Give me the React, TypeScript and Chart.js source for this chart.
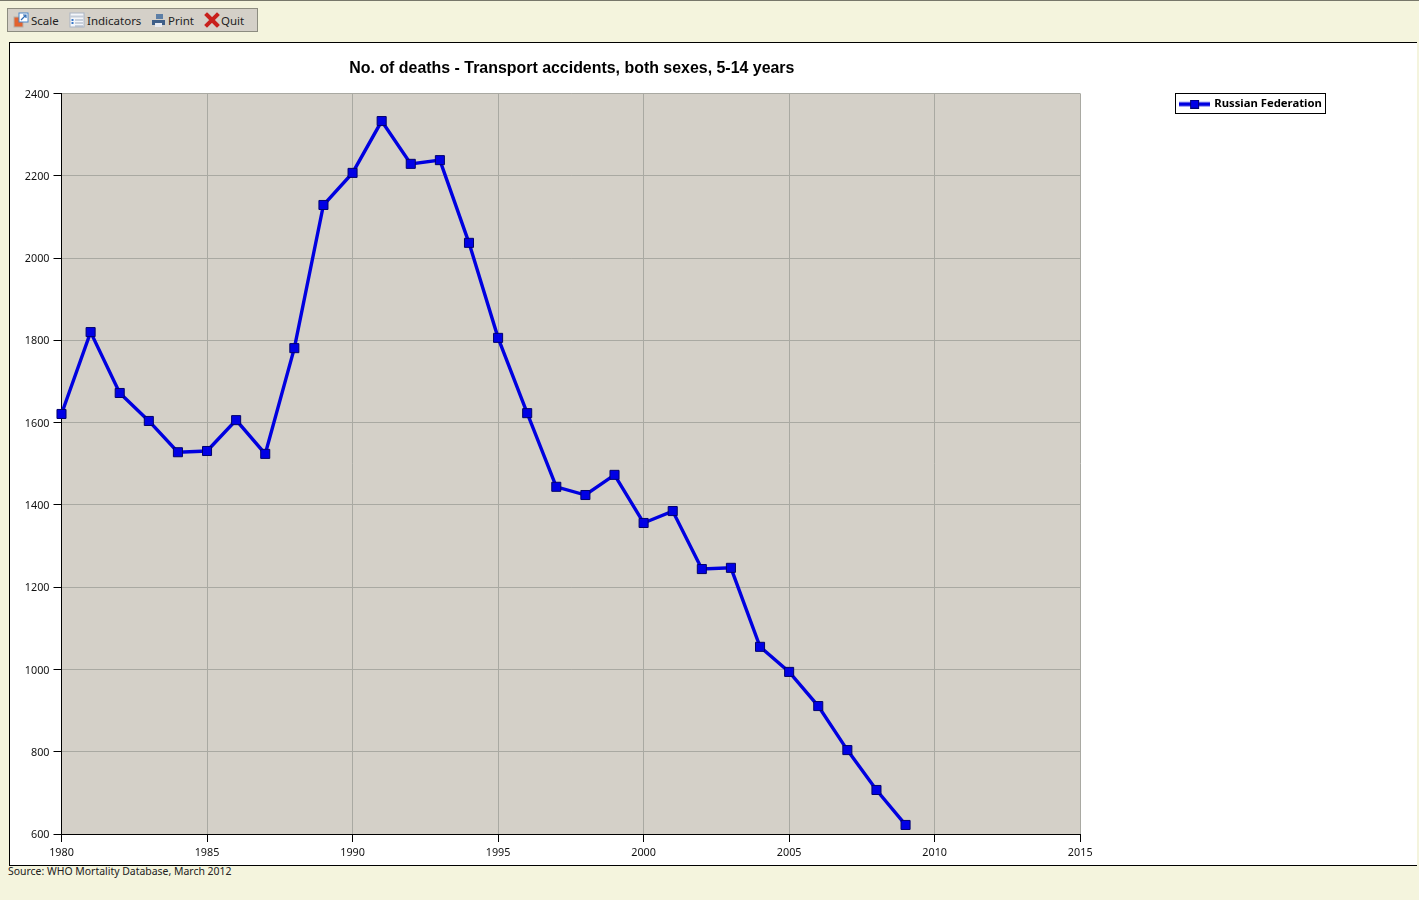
import React, { useEffect, useRef } from "react";
import { Chart, registerables } from "chart.js";

Chart.register(...registerables);

const years = [1980,1981,1982,1983,1984,1985,1986,1987,1988,1989,1990,1991,1992,1993,1994,1995,1996,1997,1998,1999,2000,2001,2002,2003,2004,2005,2006,2007,2008,2009];
const deaths = [1621,1820,1672,1604,1528,1531,1606,1524,1781,2129,2207,2333,2229,2238,2037,1806,1623,1444,1424,1473,1356,1385,1244,1247,1055,994,911,804,707,622];
const seriesName = "Russian Federation";
const chartTitle = "No. of deaths - Transport accidents, both sexes, 5-14 years";
const sourceText = "Source: WHO Mortality Database, March 2012";
const LINE = "#0000e0";
const MARK = "#0000e6";
const MARK_EDGE = "#00006e";
const UI_FONT = "'Noto Sans', sans-serif";

function makeSwatch(): HTMLCanvasElement {
  const c = document.createElement("canvas");
  c.width = 31;
  c.height = 9;
  const x = c.getContext("2d")!;
  x.fillStyle = LINE;
  x.fillRect(0, 2.5, 31, 4);
  x.fillStyle = MARK;
  x.fillRect(11, 0, 9, 9);
  x.strokeStyle = MARK_EDGE;
  x.strokeRect(11.5, 0.5, 8, 8);
  return c;
}

const framePlugin = {
  id: "frame",
  beforeDraw(chart: any) {
    const { ctx, chartArea: a } = chart;
    ctx.save();
    ctx.fillStyle = "#d4d0c8";
    ctx.fillRect(a.left, a.top, a.right - a.left, a.bottom - a.top);
    ctx.restore();
  },
  afterLayout(chart: any) {
    const l = chart.legend;
    if (l) {
      l.left = 1166.6;
      l.right = 1316;
      l.top = 51.5;
      l.bottom = 71;
    }
    const t = chart.titleBlock;
    if (t) {
      t.left = chart.chartArea.left + 1;
      t.right = chart.chartArea.right + 1;
    }
  },
  afterDraw(chart: any) {
    const { ctx } = chart;
    ctx.save();
    ctx.strokeStyle = "#000";
    ctx.lineWidth = 1;
    ctx.strokeRect(1165.5, 50.5, 150, 20);
    ctx.restore();
  },
};

const Icon = ({ left, children }: { left: number; children: React.ReactNode }) => (
  <svg width="16" height="16" viewBox="0 0 16 16" style={{ position: "absolute", left, top: 3 }}>
    {children}
  </svg>
);

const Label = ({ left, text }: { left: number; text: string }) => (
  <span style={{ position: "absolute", left, top: 3, fontFamily: UI_FONT, fontSize: 11.5, lineHeight: "17px", color: "#222" }}>{text}</span>
);

export default function App() {
  const ref = useRef<HTMLCanvasElement>(null);
  useEffect(() => {
    const swatch = makeSwatch();
    const chart = new Chart(ref.current!, {
      type: "line",
      data: {
        datasets: [
          {
            label: seriesName,
            data: years.map((y, i) => ({ x: y, y: deaths[i] })),
            borderColor: LINE,
            backgroundColor: MARK,
            borderWidth: 3.4,
            tension: 0,
            pointStyle: "rect",
            pointRadius: 6.4,
            pointBackgroundColor: MARK,
            pointBorderColor: MARK_EDGE,
            pointBorderWidth: 1,
            clip: false,
          },
        ],
      },
      options: {
        animation: false,
        responsive: false,
        layout: { padding: { left: 0, right: 335.8, top: 0, bottom: 0 } },
        scales: {
          x: {
            type: "linear",
            min: 1980,
            max: 2015,
            afterFit(s: any) { s.height = 30; },
            grid: { color: "#a9a9a2", tickColor: "#000", tickLength: 8, lineWidth: 1 },
            border: { color: "#000", width: 1 },
            ticks: { stepSize: 5, padding: 4, maxRotation: 0, color: "#111", font: { family: UI_FONT, size: 10.8 }, callback: (v: any) => String(v) },
          },
          y: {
            min: 600,
            max: 2400,
            afterFit(s: any) { s.width = 51.5; },
            grid: { color: "#a9a9a2", tickColor: "#000", tickLength: 8, lineWidth: 1 },
            border: { color: "#000", width: 1 },
            ticks: { stepSize: 200, padding: 4, labelOffset: 1, color: "#111", font: { family: UI_FONT, size: 10.8 }, callback: (v: any) => String(v) },
          },
        },
        plugins: {
          title: {
            display: true,
            text: chartTitle,
            fullSize: false,
            color: "#000",
            font: { family: "'Liberation Sans', Arial, sans-serif", size: 15.93, weight: "bold", lineHeight: 1.2 },
            padding: { top: 16.4, bottom: 14.98 },
          },
          legend: {
            display: true,
            position: "chartArea",
            align: "start",
            labels: {
              usePointStyle: true,
              pointStyleWidth: 28,
              padding: 4,
              color: "#000",
              font: { family: UI_FONT, size: 11.3, weight: "bold" },
              generateLabels: () => [
                { text: seriesName, pointStyle: swatch, fillStyle: MARK, strokeStyle: MARK_EDGE, lineWidth: 0, datasetIndex: 0, hidden: false },
              ],
            },
          },
          tooltip: { enabled: false },
        },
      } as any,
      plugins: [framePlugin],
    });
    return () => chart.destroy();
  }, []);

  return (
    <div style={{ position: "absolute", left: 0, top: 0, width: 1419, height: 900, overflow: "hidden", background: "#f4f4dd" }}>
      <div style={{ position: "absolute", left: 0, top: 0, width: 1419, height: 1, background: "#77776a" }} />
      <div style={{ position: "absolute", left: 7, top: 8, width: 249, height: 22, background: "#d4d0c8", border: "1px solid #8c8c80" }}>
        <Icon left={5}>
          <rect x="1" y="5" width="9" height="10" fill="#e2622e" stroke="#b5b0a8" />
          <rect x="6" y="1" width="9" height="9" fill="#ffffff" stroke="#4a86c8" />
          <path d="M8 8 L13 3 M10 3 H13 V6" stroke="#2f6db5" strokeWidth="1.2" fill="none" />
        </Icon>
        <Label left={23} text="Scale" />
        <Icon left={61}>
          <rect x="1" y="1" width="14" height="14" fill="#f4f6fa" stroke="#a9b4c4" />
          <path d="M1 4.5H15" stroke="#c4ccd8" strokeWidth="2" />
          <path d="M6 8H14 M6 11H14 M6 14H14" stroke="#9aa8bc" />
          <path d="M2.5 8H4.5 M2.5 11H4.5" stroke="#3a78c8" strokeWidth="2" />
        </Icon>
        <Label left={79} text="Indicators" />
        <Icon left={143}>
          <path d="M5 2H12V7H5Z" fill="#5d7fa6" />
          <path d="M1 8H14V13H1Z" fill="#3f5f88" />
          <path d="M4 11H11V15H4Z" fill="#e8eaf0" />
        </Icon>
        <Label left={160} text="Print" />
        <Icon left={196}>
          <path d="M3 3 L13 13 M13 3 L3 13" stroke="#c8201c" strokeWidth="4" strokeLinecap="square" />
        </Icon>
        <Label left={213} text="Quit" />
      </div>
      <div style={{ position: "absolute", left: 9, top: 42, width: 1407, height: 822, background: "#fff", borderTop: "1px solid #000", borderBottom: "1px solid #000", borderLeft: "1px solid #000", boxSizing: "content-box" }} />
      <canvas ref={ref} width={1406} height={821} style={{ position: "absolute", left: 10, top: 43, width: 1406, height: 821, display: "block" }} />
      <div style={{ position: "absolute", left: 8, top: 864, fontFamily: UI_FONT, fontSize: 10.45, lineHeight: "14px", color: "#222", whiteSpace: "nowrap" }}>{sourceText}</div>
    </div>
  );
}
